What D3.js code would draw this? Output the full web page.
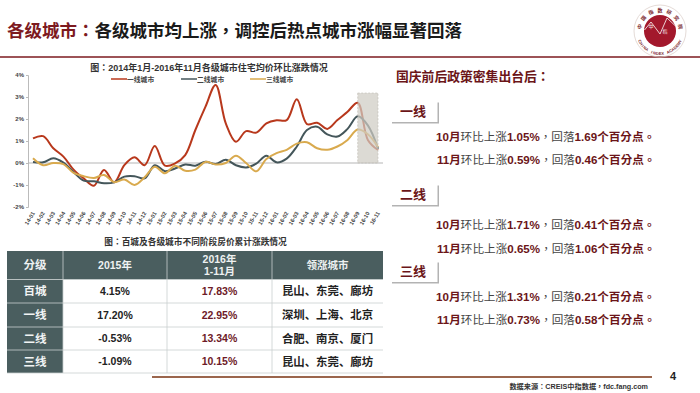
<!DOCTYPE html>
<html>
<head>
<meta charset="utf-8">
<script src="https://d3js.org/d3.v7.min.js"></script>
<style>
html, body { margin: 0; padding: 0; background: #fff; }
text { font-family: "Liberation Sans", "Noto Sans CJK TC", sans-serif; }
.sc { font-family: "Liberation Sans", "Noto Sans CJK SC", sans-serif; }
</style>
</head>
<body>
<svg id="chart" width="700" height="393"></svg>
<script>
const months = ["14-01","14-02","14-03","14-04","14-05","14-06","14-07","14-08","14-09","14-10","14-11","14-12",
    "15-01","15-02","15-03","15-04","15-05","15-06","15-07","15-08","15-09","15-10","15-11","15-12",
    "16-01","16-02","16-03","16-04","16-05","16-06","16-07","16-08","16-09","16-10","16-11"];
const tier1 = [1.12,1.22,0.67,0.29,-0.3,-0.7,-1.03,-0.32,-0.88,-0.1,0.26,-0.1,0.77,-0.12,-0.02,0.36,1.5,2.56,3.55,1.8,0.97,1.45,1.38,1.8,1.94,1.95,2.9,1.77,1.83,1.55,1.95,2.33,2.74,1.05,0.59];
const tier2 = [0.05,0.03,0.22,0.02,-0.42,-0.8,-0.83,-0.92,-0.88,-0.62,-0.6,-0.7,-0.1,-0.37,-0.25,-0.07,-0.12,0.06,-0.05,0.15,-0.1,-0.2,-0.03,0.33,0.03,0.2,0.75,1.5,1.65,1.3,1.2,1.55,2.12,1.71,0.65];
const tier3 = [0.22,-0.1,0,-0.05,-0.45,-0.6,-0.68,-0.55,-0.87,-0.75,-1,-0.65,-0.17,-0.47,-0.12,-0.35,-0.3,0.05,-0.07,0,0.33,0,-0.38,0.18,0.45,0.6,0.88,0.94,0.67,0.6,0.75,1.05,1.52,1.31,0.73];
const seriesNames = ["一线城市","二线城市","三线城市"];
const seriesColors = ["#b8381c","#44565a","#d9aa4e"];
const yTicks = [-2,-1,0,1,2,3,4];
const bandTop = 3.18;

const tableHead = ["分级","2015年","2016年\n1-11月","领涨城市"];
const tableTiers = ["百城","一线","二线","三线"];
const table2015 = ["4.15%","17.20%","-0.53%","-1.09%"];
const table2016 = ["17.83%","22.95%","13.34%","10.15%"];
const tableCities = ["昆山、东莞、廊坊","深圳、上海、北京","合肥、南京、厦门","昆山、东莞、廊坊"];

const panelTiers = ["一线","二线","三线"];
const octRise = ["1.05%","1.71%","1.31%"];
const octDrop = ["1.69","0.41","0.21"];
const novRise = ["0.59%","0.65%","0.73%"];
const novDrop = ["0.46","1.06","0.58"];

const logoTop = "中国指数研究院";
const logoBottom = "CHINA INDEX ACADEMY";

const darkRed = "#6b1518";
const svg = d3.select("#chart");

// title + top rule
const title = svg.append("text").attr("x", 7).attr("y", 37)
    .style("font-size", "17.5px").style("font-weight", "bold");
title.append("tspan").attr("fill", "#7d1a1f").text("各级城市：");
title.append("tspan").attr("fill", "#1a1a1a").text("各级城市均上涨，调控后热点城市涨幅显著回落");
svg.append("line").attr("x1", 0).attr("x2", 700).attr("y1", 57).attr("y2", 57)
    .attr("stroke", "#7d1a1f").attr("stroke-width", 1.6);

// logo, ring letters are placed one by one
const logo = svg.append("g").attr("transform", "translate(660,31)");
logo.append("circle").attr("r", 26).attr("fill", "none").attr("stroke", "#d8ccc6").attr("stroke-width", 0.7);
logo.append("circle").attr("r", 16).attr("fill", "#a3182c");
logo.append("path").attr("d", d3.line()([[-15.5,-1],[-9,-9],[0,3],[7,-13],[15.5,-5]]))
    .attr("fill", "none").attr("stroke", "#f3e4e4").attr("stroke-width", 0.9);
logo.append("text").attr("x", -9).attr("y", -3).attr("text-anchor", "middle").attr("fill", "#f3e4e4").style("font-size", "5px").text("中");
logo.append("text").attr("x", 5).attr("y", 2).attr("text-anchor", "middle").attr("fill", "#f3e4e4").style("font-size", "5px").text("指");

logoTop.split("").forEach((ch, i) => {
    const a = -78 + i * 26;
    logo.append("text").attr("transform", `rotate(${a}) translate(0,-19)`)
        .attr("text-anchor", "middle").attr("fill", "#7d2a30")
        .style("font-size", "5px").style("font-weight", "bold").text(ch);
});
logoBottom.split("").forEach((ch, i) => {
    const a = 63 - i * 7;
    if (ch === " ") return;
    logo.append("text").attr("transform", `rotate(${a}) translate(0,24)`)
        .attr("text-anchor", "middle").attr("fill", "#7d2a30")
        .style("font-size", "4px").style("font-weight", "bold").text(ch);
});

// line chart
const x = d3.scalePoint().domain(months).range([33, 378]);
const y = d3.scaleLinear().domain([-2, 4]).range([207, 75]);

svg.append("text").attr("x", 209).attr("y", 71).attr("text-anchor", "middle")
    .attr("fill", "#333").style("font-size", "9px").style("font-weight", "bold")
    .text("图：2014年1月-2016年11月各级城市住宅均价环比涨跌情况");

const legendX = [111, 181, 250];
seriesNames.forEach((name, i) => {
    svg.append("line").attr("x1", legendX[i]).attr("x2", legendX[i] + 16).attr("y1", 79).attr("y2", 79)
        .attr("stroke", seriesColors[i]).attr("stroke-width", 1.5);
    svg.append("text").attr("x", legendX[i] + 16).attr("y", 82)
        .attr("fill", "#444").style("font-size", "6.8px").style("font-weight", "bold").text(name);
});

const yAxis = svg.append("g").attr("transform", "translate(28,0)")
    .call(d3.axisLeft(y).tickValues(yTicks).tickSize(2).tickFormat(d => d + "%"));
yAxis.select(".domain").attr("stroke", "#bbb");
yAxis.selectAll("line").attr("stroke", "#bbb");
yAxis.selectAll("text").attr("fill", "#444").style("font-size", "6px").style("font-weight", "bold")
    .style("font-family", "Liberation Sans").attr("x", -4);

const xAxis = svg.append("g").attr("transform", `translate(0,${y(0)})`)
    .call(d3.axisBottom(x).tickSize(0).tickSizeOuter(0));
xAxis.select(".domain").attr("stroke", "#b5b5b5").attr("d", "M28,0H383");
xAxis.selectAll("text")
    .attr("fill", "#444").attr("text-anchor", "end").attr("y", 0).attr("dy", 0)
    .attr("transform", "translate(1.5,50) rotate(-60)")
    .style("font-size", "5.6px").style("font-weight", "bold").style("font-family", "Liberation Sans");

const line = d3.line()
    .x((d, i) => x(months[i]))
    .y(d => y(d))
    .curve(d3.curveCatmullRom.alpha(0.5));

[tier1, tier2, tier3].forEach((values, i) => {
    svg.append("path").datum(values).attr("d", line)
        .attr("fill", "none").attr("stroke", seriesColors[i]).attr("stroke-width", 2);
});

// shaded recent months
svg.append("rect")
    .attr("x", x("16-09")).attr("width", x("16-11") - x("16-09"))
    .attr("y", y(bandTop)).attr("height", y(0) - y(bandTop))
    .attr("fill", "#cfccc4").attr("fill-opacity", 0.72)
    .attr("stroke", "#bdbab2").attr("stroke-width", 0.6).attr("stroke-dasharray", "2,1.5");

// table
svg.append("text").attr("x", 195.5).attr("y", 245).attr("text-anchor", "middle")
    .attr("fill", "#333").style("font-size", "8.7px").style("font-weight", "bold")
    .text("图：百城及各级城市不同阶段房价累计涨跌情况");

const colEdges = [7, 63, 167, 272, 383];
const rowEdges = [251, 279.5, 303, 327, 350, 373];
const headColor = "#4a5e5f";

svg.append("rect").attr("x", colEdges[0]).attr("y", rowEdges[0])
    .attr("width", colEdges[4] - colEdges[0]).attr("height", rowEdges[1] - rowEdges[0]).attr("fill", headColor);
svg.append("rect").attr("x", colEdges[0]).attr("y", rowEdges[1])
    .attr("width", colEdges[1] - colEdges[0]).attr("height", rowEdges[5] - rowEdges[1]).attr("fill", headColor);
colEdges.slice(1, 4).forEach(cx => {
    svg.append("line").attr("x1", cx).attr("x2", cx).attr("y1", rowEdges[0]).attr("y2", rowEdges[5])
        .attr("stroke", "#c9cfcf").attr("stroke-width", 0.8);
});
rowEdges.slice(1).forEach(ry => {
    svg.append("line").attr("x1", colEdges[0]).attr("x2", colEdges[4]).attr("y1", ry).attr("y2", ry)
        .attr("stroke", "#c9cfcf").attr("stroke-width", 0.8);
});

function cell(col, row, str, color, size) {
    const cx = (colEdges[col] + colEdges[col + 1]) / 2;
    const cy = (rowEdges[row] + rowEdges[row + 1]) / 2;
    const lines = str.split("\n");
    lines.forEach((t, i) => {
        svg.append("text").attr("class", "sc").attr("x", cx).attr("y", cy + (i - (lines.length - 1) / 2) * 12.5)
            .attr("dy", "0.36em").attr("text-anchor", "middle")
            .attr("fill", color).style("font-size", size + "px").style("font-weight", "bold").text(t);
    });
}
tableHead.forEach((t, c) => cell(c, 0, t, "#eef1f1", c === 0 ? 11.5 : 10.5));
tableTiers.forEach((t, r) => {
    cell(0, r + 1, t, "#f2f4f4", 11.5);
    cell(1, r + 1, table2015[r], "#222", 10.5);
    cell(2, r + 1, table2016[r], "#6e1a28", 10.5);
    cell(3, r + 1, tableCities[r], "#222", 11.4);
});

// right panel
svg.append("text").attr("x", 396).attr("y", 81).attr("fill", darkRed)
    .style("font-size", "12.8px").style("font-weight", "bold").text("国庆前后政策密集出台后：");

const boxTops = [101, 184, 261];
const octRows = [137, 225, 297];
const novRows = [160, 249, 320];

function note(px, py, month, rise, drop) {
    const t = svg.append("text").attr("x", px).attr("y", py).attr("dy", "0.36em").style("font-size", "11.6px");
    t.append("tspan").attr("fill", darkRed).style("font-weight", "bold").text(month);
    t.append("tspan").attr("fill", "#444").text("环比上涨");
    t.append("tspan").attr("fill", darkRed).style("font-weight", "bold").text(rise);
    t.append("tspan").attr("fill", "#444").text("，回落");
    t.append("tspan").attr("fill", darkRed).style("font-weight", "bold").text(drop + "个百分点。");
}

panelTiers.forEach((name, i) => {
    svg.append("rect").attr("x", 392).attr("y", boxTops[i] + 1.5).attr("width", 47).attr("height", 21).attr("fill", "#b3b3b3");
    svg.append("rect").attr("x", 390).attr("y", boxTops[i]).attr("width", 47.5).attr("height", 21).attr("fill", "#fff");
    svg.append("text").attr("x", 413).attr("y", boxTops[i] + 10.5).attr("dy", "0.36em").attr("text-anchor", "middle")
        .attr("fill", darkRed).style("font-size", "13px").style("font-weight", "bold").text(name);
    note(436, octRows[i], "10月", octRise[i], octDrop[i]);
    note(437, novRows[i], "11月", novRise[i], novDrop[i]);
});

// footer
svg.append("line").attr("x1", 152).attr("x2", 652).attr("y1", 377).attr("y2", 377)
    .attr("stroke", "#7a3312").attr("stroke-width", 1.6);
svg.append("text").attr("x", 673).attr("y", 376).attr("dy", "0.36em").attr("text-anchor", "middle")
    .attr("fill", "#222").style("font-size", "11px").style("font-weight", "bold").text("4");
svg.append("text").attr("x", 648).attr("y", 386).attr("dy", "0.36em").attr("text-anchor", "end")
    .attr("fill", "#333").style("font-size", "7.2px").style("font-weight", "bold").text("数据来源：CREIS中指数据，fdc.fang.com");
</script>
</body>
</html>
